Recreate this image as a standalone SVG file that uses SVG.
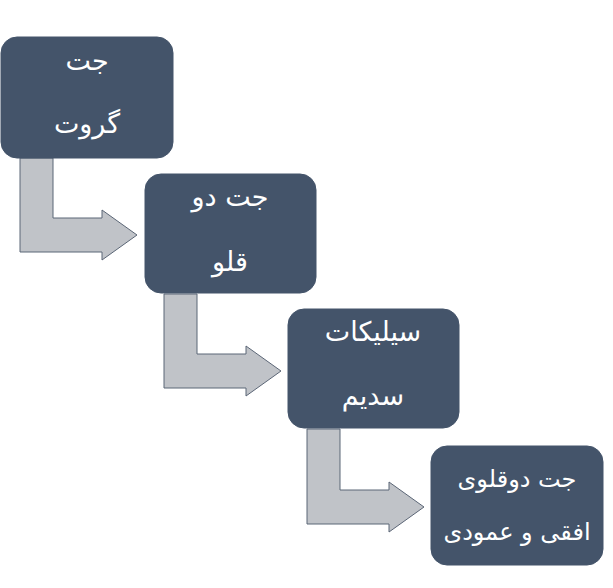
<svg xmlns="http://www.w3.org/2000/svg" width="613" height="588" viewBox="0 0 613 588">
<defs>
<style>
.box{fill:#44546A;stroke:#44546A;stroke-width:1}
.arr{fill:#C0C3C8;stroke:#5B6676;stroke-width:1}
.t{fill:#FFFFFF;font-family:"DejaVu Sans","Noto Sans",sans-serif;text-anchor:middle;direction:rtl}
.l{font-size:27px}
.s{font-size:24px}
</style>
</defs>
<rect width="613" height="588" fill="#FFFFFF"/>
<g id="connectors">
<polygon class="arr" points="20,158 53,158 53,218 102,218 102,210 137,235 102,260 102,252 20,252"/>
<polygon class="arr" points="164,294 197,294 197,354 246,354 246,346 281,371 246,396 246,388 164,388"/>
<polygon class="arr" points="307,429 340,429 340,490 389,490 389,482 424,507 389,532 389,524 307,524"/>
</g>
<g id="node1">
<rect class="box" x="1" y="37" width="172" height="121" rx="16"/>
<text class="t l" x="87" y="70">جت</text>
<text class="t l" x="87" y="133">گروت</text>
</g>
<g id="node2">
<rect class="box" x="145" y="174" width="171" height="119" rx="16"/>
<text class="t l" x="230" y="206">جت دو</text>
<text class="t l" x="230" y="271">قلو</text>
</g>
<g id="node3">
<rect class="box" x="288" y="309" width="171" height="119" rx="16"/>
<text class="t l" x="373" y="341">سیلیکات</text>
<text class="t l" x="373" y="405">سدیم</text>
</g>
<g id="node4">
<rect class="box" x="431" y="446" width="172" height="119" rx="16"/>
<text class="t s" x="517" y="487">جت دوقلوی</text>
<text class="t s" x="517" y="540">افقی و عمودی</text>
</g>
</svg>
